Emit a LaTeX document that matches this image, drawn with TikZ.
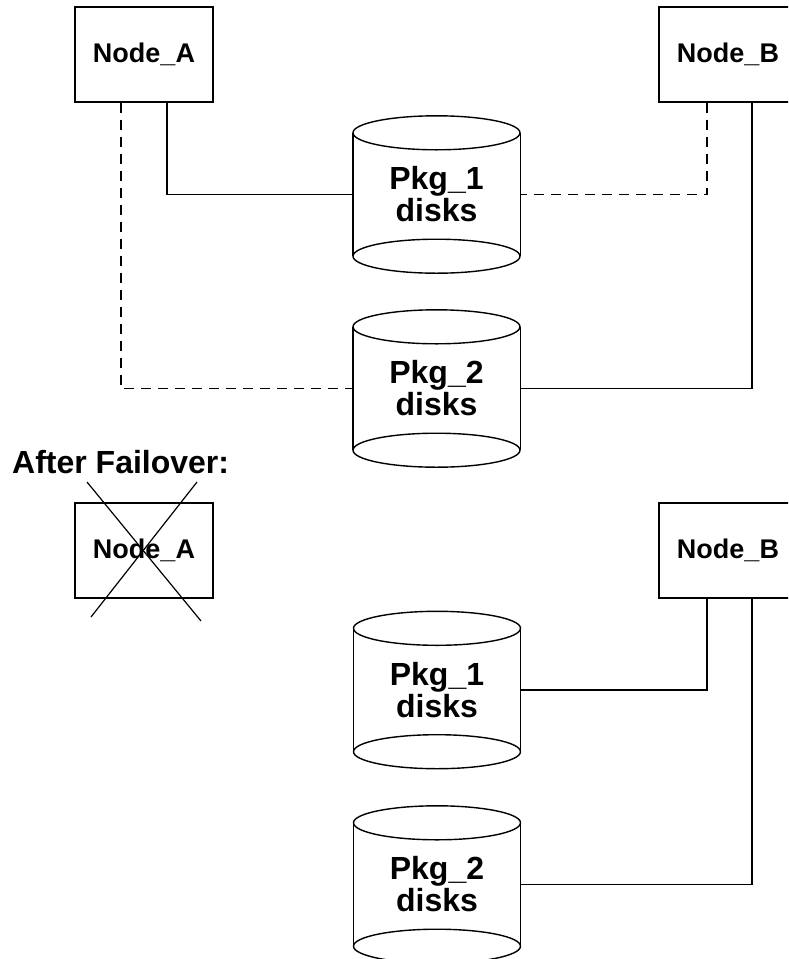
\documentclass[tikz,border=0pt]{standalone}
\usepackage{fontspec}
\setmainfont{Liberation Sans}
\usepackage{tikz}

\tikzset{
  link/.style={line width=1.4pt},
  lost/.style={line width=1.4pt, dash pattern=on 10pt off 7pt},
  hostbox/.style={draw, line width=1.4pt, minimum width=138pt, minimum height=95pt,
    font=\fontsize{27}{30}\selectfont\bfseries},
  diskstack/.style={minimum width=167pt, minimum height=123pt, inner sep=0pt,
    align=center, font=\fontsize{32}{32}\selectfont\bfseries}
}

\begin{document}
\begin{tikzpicture}[x=1pt,y=-1pt]
\useasboundingbox (0,0) rectangle (788,959);
\clip (0,0) rectangle (788,959);
% before failover
\node[hostbox] (nodeA) at (144,54.5) {Node\_A};
\node[hostbox] (nodeB) at (728,54.5) {Node\_B};
\node[diskstack] (pkgA) at (436.5,194.5) {Pkg\_1\\disks};
\node[diskstack] (pkgB) at (436.5,388.5) {Pkg\_2\\disks};
%
\node[anchor=base west, inner sep=0pt, font=\fontsize{32}{34}\selectfont\bfseries]
  (after) at (12,473) {After Failover:};
% after failover
\node[hostbox] (nodeC) at (144,550.5) {Node\_A};
\node[hostbox] (nodeD) at (728,550.5) {Node\_B};
\node[diskstack] (pkgC) at (437,690) {Pkg\_1\\disks};
\node[diskstack] (pkgD) at (437,884.5) {Pkg\_2\\disks};
% cylinders
\foreach \d in {pkgA,pkgB,pkgC,pkgD}{
  \draw[link] (\d.north west) -- (\d.south west) (\d.north east) -- (\d.south east);
  \draw[link] (\d.north) ellipse [x radius=83.5pt, y radius=17pt];
  \draw[link] (\d.south) ellipse [x radius=83.5pt, y radius=17pt];
}
% connections
\draw[link] ([xshift=23pt]nodeA.south) |- (pkgA.west);
\draw[lost] ([xshift=-23pt]nodeA.south) |- (pkgB.west);
\draw[lost] ([xshift=-21pt]nodeB.south) |- (pkgA.east);
\draw[link] ([xshift=24pt]nodeB.south) |- (pkgB.east);
\draw[link] ([xshift=-21pt]nodeD.south) |- (pkgC.east);
\draw[link] ([xshift=24pt]nodeD.south) |- (pkgD.east);
% failed node
\draw[line width=1.2pt] (87,482) -- (201,621);
\draw[line width=1.2pt] (197,482) -- (91,617);
\end{tikzpicture}
\end{document}
